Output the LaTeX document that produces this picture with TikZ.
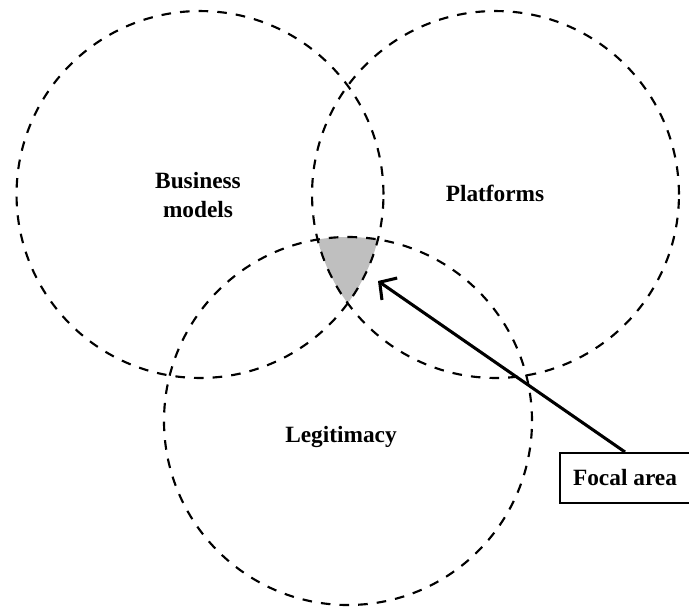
\documentclass[tikz,border=0pt]{standalone}
\usepackage{fontspec}
\setmainfont{Liberation Serif}
\usetikzlibrary{arrows.meta}

\begin{document}
\begin{tikzpicture}[x=0.75pt,y=-0.75pt,
  ring/.style={dash pattern=on 7.2pt off 6.8pt, line width=1.6pt},
  every node/.style={font=\fontsize{17.5}{21.5}\selectfont\bfseries, align=center}]
 \useasboundingbox (0,0) rectangle (689,608);
 \coordinate (bm) at (200,194.5);
 \coordinate (pf) at (495.5,194.5);
 \coordinate (lg) at (348,421);
 % shaded part common to all three
 \begin{scope}
  \clip (bm) circle (137.6pt);
  \clip (pf) circle (137.6pt);
  \fill[black!25] (lg) circle (138pt);
 \end{scope}
 \draw[ring] (bm) circle (137.6pt);
 \draw[ring] (pf) circle (137.6pt);
 \draw[ring] (lg) circle (138pt);
 \node (business) at (198,195) {Business\\models};
 \node (platforms) at (495,193) {Platforms};
 \node (legit) at (341,437) {Legitimacy};
 \node[draw, line width=1.5pt, minimum width=97pt, minimum height=37.5pt, inner sep=0] (focal) at (625,478) {Focal area};
 \coordinate (tip) at (378,281);
 \draw[line width=2.3pt, -{Straight Barb[length=9pt,width=20pt]}] (focal.north) -- (tip);
\end{tikzpicture}
\end{document}
